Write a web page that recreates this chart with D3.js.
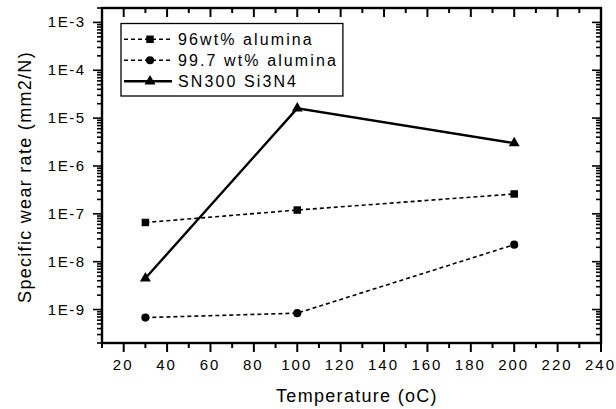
<!DOCTYPE html>
<html>
<head>
<meta charset="utf-8">
<script src="https://cdn.jsdelivr.net/npm/d3@7"></script>
<style>
  body { margin: 0; background: #fff; }
  text { font-family: "Liberation Sans", Arial, sans-serif; fill: #000; }
</style>
</head>
<body>
<script>
// data
let temps = [30, 100, 200];
let alumina96 = [6.6e-8, 1.2e-7, 2.6e-7];
let alumina997 = [6.8e-10, 8.4e-10, 2.27e-8];
let sn300 = [4.5e-9, 1.6e-5, 3.0e-6];
let seriesNames = ["96wt% alumina", "99.7 wt% alumina", "SN300 Si3N4"];
let xTicks = [20, 40, 60, 80, 100, 120, 140, 160, 180, 200, 220, 240];
let yTicks = [1e-9, 1e-8, 1e-7, 1e-6, 1e-5, 1e-4, 1e-3];

let W = 616, H = 409;
let pLeft = 102, pRight = 601, pTop = 8, pBottom = 343;
let majLen = 9, minLen = 5;

let svg = d3.select("body").append("svg")
    .attr("width", W)
    .attr("height", H);

let x = d3.scaleLinear().domain([10, 240]).range([pLeft, pRight]);
let y = d3.scaleLog().domain([2e-10, 2e-3]).range([pBottom, pTop]);

// minor ticks
let xMinor = d3.range(10, 241, 10).filter(function (d) { return d % 20 !== 0; });
let yMinor = [];
for (let e = -10; e <= -3; ++e) {
    for (let m = 2; m <= 9; ++m) {
        let v = m * Math.pow(10, e);
        if (v >= 2e-10 && v <= 2e-3) yMinor.push(v);
    }
}

let g = svg.append("g");

function xTickLines(data, y0, len, cls) {
    g.selectAll("." + cls).data(data).enter().append("line")
        .attr("class", cls)
        .attr("x1", function (d) { return x(d); }).attr("x2", function (d) { return x(d); })
        .attr("y1", y0).attr("y2", y0 + len)
        .attr("stroke", "#000").attr("stroke-width", 2);
}
function yTickLines(data, x0, len, cls) {
    g.selectAll("." + cls).data(data).enter().append("line")
        .attr("class", cls)
        .attr("x1", x0).attr("x2", x0 + len)
        .attr("y1", function (d) { return y(d); }).attr("y2", function (d) { return y(d); })
        .attr("stroke", "#000").attr("stroke-width", 1.6);
}
// bottom/left outward, top/right inward
xTickLines(xTicks, pBottom, majLen, "xmaj");
xTickLines(xMinor, pBottom, minLen, "xmin");
xTickLines(xTicks, pTop, majLen, "xmajt");
xTickLines(xMinor, pTop, minLen, "xmint");
yTickLines(yTicks, pLeft, -majLen, "ymaj");
yTickLines(yMinor, pLeft, -minLen, "ymin");
yTickLines(yTicks, pRight, -majLen, "ymajr");
yTickLines(yMinor, pRight, -minLen, "yminr");

// frame
g.append("rect")
    .attr("x", pLeft).attr("y", pTop)
    .attr("width", pRight - pLeft).attr("height", pBottom - pTop)
    .attr("fill", "none").attr("stroke", "#000").attr("stroke-width", 2.4);

// tick labels
g.selectAll(".xlab").data(xTicks).enter().append("text")
    .attr("x", function (d) { return x(d) - 0.5; })
    .attr("y", pBottom + 27)
    .attr("text-anchor", "middle")
    .style("font-size", "15px").style("letter-spacing", "2px")
    .text(function (d) { return d; });
g.selectAll(".ylab").data(yTicks).enter().append("text")
    .attr("x", pLeft - 16.5)
    .attr("y", function (d) { return y(d) + 5; })
    .attr("text-anchor", "end")
    .style("font-size", "15px").style("letter-spacing", "1.5px")
    .text(function (d) { return "1E-" + Math.round(-Math.log10(d)); });

// axis titles
svg.append("text")
    .attr("x", 357)
    .attr("y", 402)
    .attr("text-anchor", "middle")
    .style("font-size", "18px").style("letter-spacing", "1.3px")
    .text("Temperature (oC)");
svg.append("text")
    .attr("transform", "translate(31,177) rotate(-90)")
    .attr("text-anchor", "middle")
    .style("font-size", "18px").style("letter-spacing", "1.3px")
    .text("Specific wear rate (mm2/N)");

// series
let line = d3.line()
    .x(function (d) { return x(d[0]); })
    .y(function (d) { return y(d[1]); });
let zipped = [alumina96, alumina997, sn300].map(function (s) {
    return temps.map(function (t, i) { return [t, s[i]]; });
});
let dashes = ["4,3", "4,3", null];
let widths = [1.6, 1.6, 2.4];
let symbols = [d3.symbolSquare, d3.symbolCircle, d3.symbolTriangle];
let symSize = [56, 52, 52];

zipped.forEach(function (pts, k) {
    g.append("path")
        .attr("d", line(pts))
        .attr("fill", "none")
        .attr("stroke", "#000")
        .attr("stroke-width", widths[k])
        .attr("stroke-dasharray", dashes[k]);
    g.selectAll(".m" + k).data(pts).enter().append("path")
        .attr("transform", function (d) { return "translate(" + x(d[0]) + "," + y(d[1]) + ")"; })
        .attr("d", d3.symbol().type(symbols[k]).size(symSize[k]))
        .attr("fill", "#000");
});

// legend
let lg = svg.append("g");
let box = lg.append("rect")
    .attr("x", 121).attr("y", 23.5)
    .attr("height", 72.5)
    .attr("fill", "#fff").attr("stroke", "#000").attr("stroke-width", 1.3);
let rowY = [39.3, 60.3, 81.3];
let maxRight = 0;
seriesNames.forEach(function (name, k) {
    lg.append("line")
        .attr("x1", 124).attr("x2", 172)
        .attr("y1", rowY[k]).attr("y2", rowY[k])
        .attr("stroke", "#000")
        .attr("stroke-width", widths[k])
        .attr("stroke-dasharray", dashes[k]);
    lg.append("path")
        .attr("transform", "translate(150," + rowY[k] + ")")
        .attr("d", d3.symbol().type(symbols[k]).size(symSize[k]))
        .attr("fill", "#000");
    let t = lg.append("text")
        .attr("x", 178).attr("y", rowY[k] + 5.8)
        .style("font-size", "16px").style("letter-spacing", "2.1px")
        .text(name);
    let bb = t.node().getBBox();
    maxRight = Math.max(maxRight, bb.x + bb.width);
});
box.attr("width", maxRight + 5 - 121);
</script>
</body>
</html>
